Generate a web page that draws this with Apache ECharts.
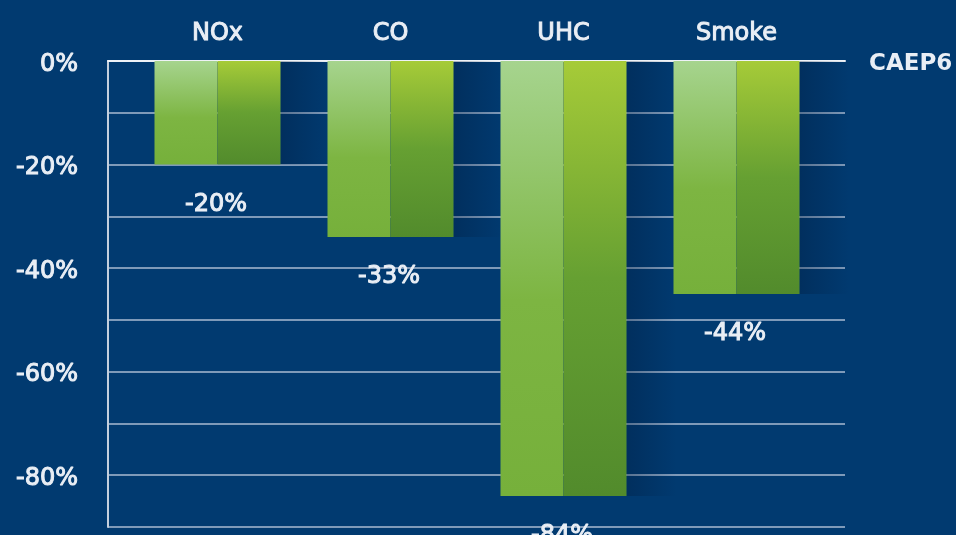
<!DOCTYPE html>
<html>
<head>
<meta charset="utf-8">
<script src="https://cdn.jsdelivr.net/npm/echarts@6/dist/echarts.min.js"></script>
<style>
html,body{margin:0;padding:0;background:#013a70;}
#c{width:956px;height:535px;}
</style>
</head>
<body>
<div id="c"></div>
<script>
const categories = ['NOx', 'CO', 'UHC', 'Smoke'];
const reductionValues = [-20, -34, -84, -45];
const reductionLabels = ['-20%', '-33%', '-84%', '-44%'];
const yTickStep = 10;
const yLabelStep = 20;
const yMin = -90;
const yMax = 0;
const referenceLabel = 'CAEP6';

const FONT = 'DejaVu Sans';
const txt = '#e9eef5';

const chart = echarts.init(document.getElementById('c'));

const leftGrad = new echarts.graphic.LinearGradient(0, 0, 0, 1, [
  {offset: 0, color: '#a6d48e'},
  {offset: 0.55, color: '#7db542'},
  {offset: 1, color: '#76b03b'}
]);
const rightGrad = new echarts.graphic.LinearGradient(0, 0, 0, 1, [
  {offset: 0, color: '#a6cb38'},
  {offset: 0.5, color: '#66a032'},
  {offset: 1, color: '#528b2c'}
]);
const shadowGrad = new echarts.graphic.LinearGradient(0, 0, 1, 0, [
  {offset: 0, color: 'rgba(0,22,52,0.3)'},
  {offset: 1, color: 'rgba(0,22,52,0)'}
]);

const hiddenY = (gi) => ({type: 'value', gridIndex: gi, min: yMin, max: yMax, show: false});
const textStyle = {color: txt, fontFamily: FONT, fontSize: 24, fontWeight: 'normal',
  textBorderColor: txt, textBorderWidth: 1};
const shifted = Object.assign({padding: [7, 0, 0, 0]}, textStyle);
const shiftedBold = Object.assign({}, shifted, {fontSize: 23, fontWeight: 'bold', textBorderWidth: 0});

chart.setOption({
  backgroundColor: '#013a70',
  animation: false,
  grid: [
    {left: 108, right: 111, top: 61, bottom: 8},
    {left: 131, right: 133, top: 61, bottom: 8},
    {left: 219, right: 45, top: 61, bottom: 8}
  ],
  xAxis: [
    {type: 'category', gridIndex: 0, position: 'top', data: categories,
     axisLine: {show: true, lineStyle: {color: '#eef2f7', width: 2}},
     axisTick: {show: false}, axisLabel: {show: false}, splitLine: {show: false}},
    {type: 'category', gridIndex: 1, position: 'top', data: categories,
     axisLine: {show: false}, axisTick: {show: false},
     axisLabel: Object.assign({margin: 15}, textStyle)},
    {type: 'category', gridIndex: 2, data: categories, show: false}
  ],
  yAxis: [
    {type: 'value', gridIndex: 0, min: yMin, max: yMax, interval: yTickStep,
     axisLine: {show: true, lineStyle: {color: '#c4cfdd', width: 2}},
     axisTick: {show: false},
     axisLabel: Object.assign({margin: 30,
       formatter: v => (v % yLabelStep === 0 ? '{s|' + v + '%}' : ''),
       rich: {s: shifted}}, textStyle),
     splitLine: {show: true, lineStyle: {color: 'rgba(170,187,210,0.75)', width: 2}}},
    {type: 'value', gridIndex: 0, position: 'right', min: yMin, max: yMax, interval: yTickStep,
     axisLine: {show: false}, axisTick: {show: false}, splitLine: {show: false},
     axisLabel: Object.assign({margin: 24,
       formatter: v => (v === yMax ? '{s|' + referenceLabel + '}' : ''),
       rich: {s: shiftedBold}}, textStyle)},
    hiddenY(1),
    hiddenY(2)
  ],
  series: [
    {type: 'bar', xAxisIndex: 2, yAxisIndex: 3, data: reductionValues, barWidth: 50,
     itemStyle: {color: shadowGrad}, silent: true, z: 1},
    {type: 'bar', xAxisIndex: 1, yAxisIndex: 2, data: reductionValues, barWidth: 63, barGap: '0%',
     itemStyle: {color: leftGrad}, z: 3,
     label: Object.assign({show: true, position: 'bottom', distance: 28, offset: [30, 0],
       formatter: p => reductionLabels[p.dataIndex]}, textStyle)},
    {type: 'bar', xAxisIndex: 1, yAxisIndex: 2, data: reductionValues, barWidth: 63, barGap: '0%',
     itemStyle: {color: rightGrad}, z: 3}
  ]
});
</script>
</body>
</html>
